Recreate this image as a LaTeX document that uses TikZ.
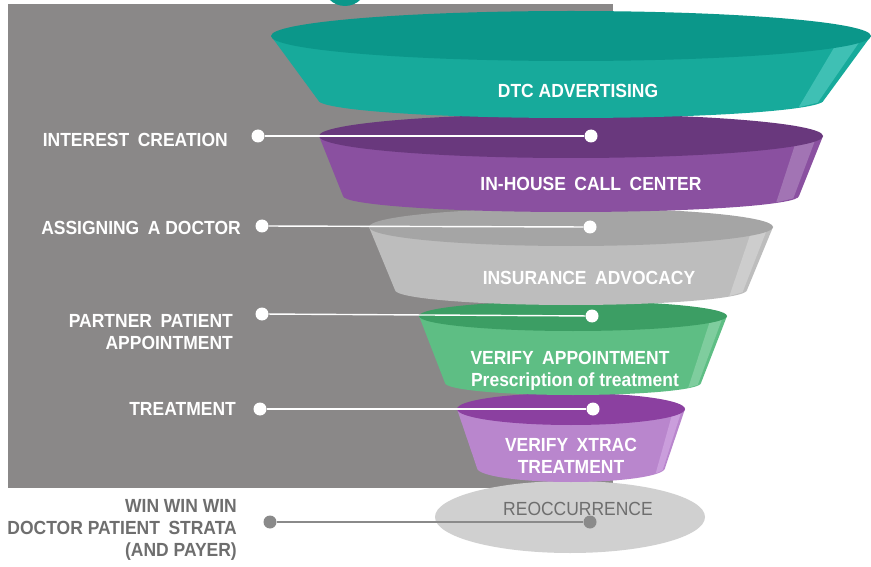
\documentclass[tikz,border=0pt]{standalone}
\usepackage{fontspec}
\setmainfont{Liberation Sans}[FakeStretch=0.92]
\definecolor{bggray}{HTML}{8A8888}
\definecolor{tealside}{HTML}{17AA9B}
\definecolor{tealtop}{HTML}{0B978A}
\definecolor{tealhi}{HTML}{3FC0B4}
\definecolor{purpside}{HTML}{8A50A0}
\definecolor{purptop}{HTML}{69387D}
\definecolor{purphi}{HTML}{A274B4}
\definecolor{grayside}{HTML}{BDBDBD}
\definecolor{graytop}{HTML}{A5A5A5}
\definecolor{grayhi}{HTML}{CDCDCD}
\definecolor{greenside}{HTML}{5EBE84}
\definecolor{greentop}{HTML}{3C9E64}
\definecolor{greenhi}{HTML}{7FCD9E}
\definecolor{lpurpside}{HTML}{B986CD}
\definecolor{lpurptop}{HTML}{8B40A0}
\definecolor{lpurphi}{HTML}{CA9EDC}
\definecolor{reocc}{HTML}{D0D0D0}
\definecolor{darktext}{HTML}{6E6E6E}
\definecolor{dotgray}{HTML}{8A8A8A}
\newcommand\wsp{\hspace{0.45em}}
\newcommand\lblfont{\fontsize{19}{22}\selectfont\bfseries}
% cx yt rxt ryt yb rxb ryb colourprefix
\newcommand\funnellayer[8]{%
  \fill[#8side] ({#1-#3},#2) -- ({#1-#6},#5) -- ({#1+#6},#5) -- ({#1+#3},#2) -- cycle;
  \fill[#8side] (#1,#5) ellipse [x radius=#6, y radius=#7];
  \fill[#8hi] ({#1+0.90*#3},#2) -- ({#1+0.975*#3},#2) -- ({#1+0.975*#6},{#5+0.15*#7}) -- ({#1+0.90*#6},{#5+0.4*#7}) -- cycle;
  \fill[#8top] (#1,#2) ellipse [x radius=#3, y radius=#4];
}
\tikzset{
  intext/.style={text=white, font=\lblfont, inner sep=0pt, anchor=base},
  lefttext/.style={text=white, font=\lblfont, inner sep=0pt, anchor=base east},
  graytext/.style={text=darktext, font=\lblfont, inner sep=0pt, anchor=base east},
  wdot/.style={circle, fill=white, inner sep=0pt, minimum size=13pt},
  gdot/.style={circle, fill=dotgray, inner sep=0pt, minimum size=13pt},
  wline/.style={draw=white, line width=1.4pt},
  gline/.style={draw=dotgray, line width=1.4pt},
}
\begin{document}
\begin{tikzpicture}[x=1pt,y=-1pt]
\useasboundingbox (0,0) rectangle (871,567);
\fill[white] (0,0) rectangle (871,567);
% background panel
\fill[bggray] (8,4) rectangle (613,488);
\fill[tealtop] (345,-16) circle [radius=22];
% reoccurrence ellipse
\fill[reocc] (570,517) ellipse [x radius=135, y radius=36];
% funnel layers, bottom to top
\funnellayer{571}{409}{114}{16}{468}{94}{14}{lpurp}
\funnellayer{573}{316}{154}{15}{383}{128}{12}{green}
\funnellayer{571}{227}{202}{19}{290}{176}{15}{gray}
\funnellayer{571}{136}{252}{22}{196}{228}{16}{purp}
\funnellayer{571}{36}{300}{25}{100}{253}{18}{teal}
% layer texts
\node[intext] (t1) at (578,98) {DTC ADVERTISING};
\node[intext] (t2) at (591,191) {IN-HOUSE\wsp CALL\wsp CENTER};
\node[intext] (t3) at (589,284) {INSURANCE\wsp ADVOCACY};
\node[intext] (t4a) at (570,364) {VERIFY\wsp APPOINTMENT};
\node[intext] (t4b) at (575,386) {Prescription of treatment};
\node[intext] (t5a) at (571,451) {VERIFY\wsp XTRAC};
\node[intext] (t5b) at (571,473) {TREATMENT};
\node[text=darktext, font=\fontsize{19}{22}\selectfont, inner sep=0pt, anchor=base] (t6) at (578,515) {REOCCURRENCE};
% left labels
\node[lefttext] (l1) at (228,147) {INTEREST\wsp CREATION};
\node[lefttext] (l2) at (241,235) {ASSIGNING\wsp A DOCTOR};
\node[lefttext] (l3a) at (233,327) {PARTNER\wsp PATIENT};
\node[lefttext] (l3b) at (233,349) {APPOINTMENT};
\node[lefttext] (l4) at (236,415) {TREATMENT};
\node[graytext] (l5a) at (237,512) {WIN WIN WIN};
\node[graytext] (l5b) at (237,534) {DOCTOR PATIENT\wsp STRATA};
\node[graytext] (l5c) at (237,556) {(AND PAYER)};
% dots and connectors
\node[wdot] (a1) at (258,136) {};
\node[wdot] (b1) at (591,136) {};
\node[wdot] (a2) at (262,226) {};
\node[wdot] (b2) at (590,227) {};
\node[wdot] (a3) at (262,314) {};
\node[wdot] (b3) at (592,316) {};
\node[wdot] (a4) at (260,409) {};
\node[wdot] (b4) at (593,409) {};
\node[gdot] (a5) at (270,522) {};
\node[gdot] (b5) at (590,522) {};
\draw[wline] (a1) -- (b1);
\draw[wline] (a2) -- (b2);
\draw[wline] (a3) -- (b3);
\draw[wline] (a4) -- (b4);
\draw[gline] (a5) -- (b5);
\end{tikzpicture}
\end{document}
